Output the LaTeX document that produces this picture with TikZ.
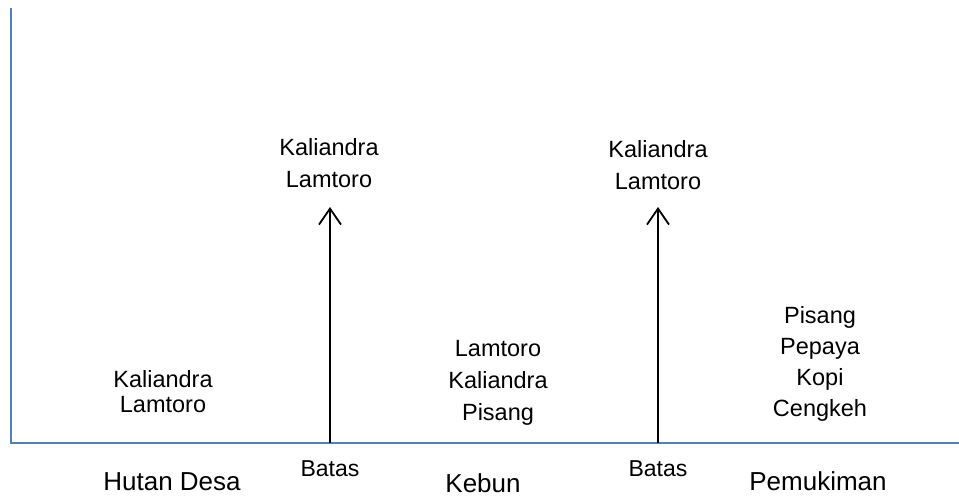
\documentclass[tikz,border=0pt]{standalone}
\usepackage{fontspec}
\setmainfont{Liberation Sans}
\usetikzlibrary{arrows.meta}
\definecolor{axisblue}{RGB}{79,129,189}
\begin{document}
\begin{tikzpicture}[x=1pt,y=1pt,
  axisline/.style={draw=axisblue,line width=2.6pt},
  boundary/.style={draw=black,line width=1.8pt,
    -{Straight Barb[length=16pt,width=22pt,line width=1.8pt]}},
  plants/.style={align=center,inner sep=0pt,
    font=\fontsize{23.5}{#1}\selectfont},
  plants/.default=31,
  zone/.style={anchor=base,inner sep=0pt,font=\fontsize{26}{30}\selectfont},
  marker/.style={anchor=base,inner sep=0pt,font=\fontsize{23}{28}\selectfont}]
\useasboundingbox (0,0) rectangle (959,496);

% axes
\coordinate (top) at (11,488);
\coordinate (origin) at (11,53);
\coordinate (right) at (959,53);
\draw[axisline] (top) -- (origin) -- (right);

% boundary arrows
\coordinate (b1foot) at (330,53);
\coordinate (b1tip) at (330,289);
\coordinate (b2foot) at (658,53);
\coordinate (b2tip) at (658,289);
\draw[boundary] (b1foot) -- (b1tip);
\draw[boundary] (b2foot) -- (b2tip);

% plants in each zone
\node[plants=25] (hutanplants) at (163,104) {Kaliandra\\Lamtoro};
\node[plants=32] (batas1plants) at (329,333) {Kaliandra\\Lamtoro};
\node[plants=32] (batas2plants) at (658,331) {Kaliandra\\Lamtoro};
\node[plants=32] (kebunplants) at (498,113) {Lamtoro\\Kaliandra\\Pisang};
\node[plants=31] (pemukimanplants) at (820,132.5) {Pisang\\Pepaya\\Kopi\\Cengkeh};

% zone names along the axis
\node[zone] (hutan) at (172,6) {Hutan Desa};
\node[zone] (kebun) at (483,4) {Kebun};
\node[zone] (pemukiman) at (818,6) {Pemukiman};
\node[marker] (batas1) at (330,20) {Batas};
\node[marker] (batas2) at (658,20) {Batas};
\end{tikzpicture}
\end{document}
